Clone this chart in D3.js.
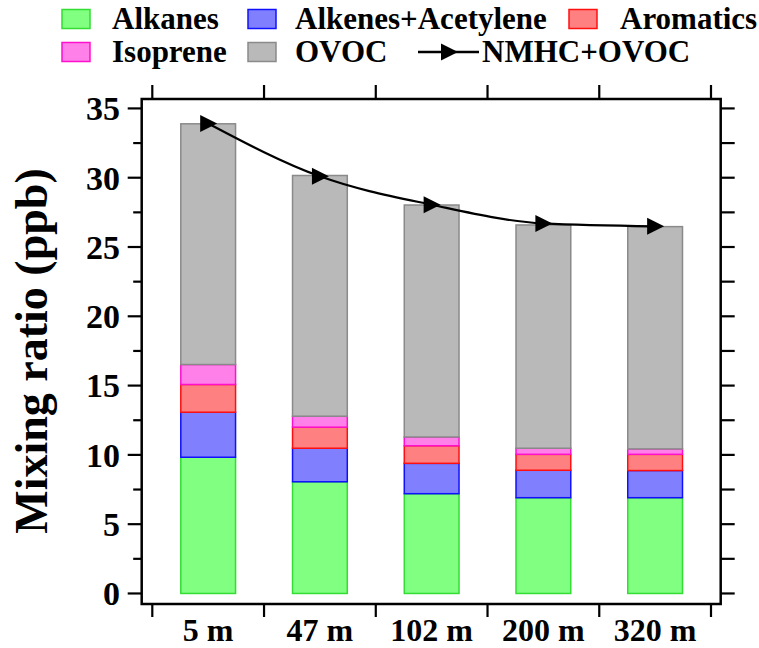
<!DOCTYPE html>
<html>
<head>
<meta charset="utf-8">
<script src="https://cdn.jsdelivr.net/npm/d3@7"></script>
<style>
  html, body { margin: 0; padding: 0; background: #fff; }
  svg { display: block; font-family: "Liberation Serif", "Times New Roman", serif; font-weight: bold; }
</style>
</head>
<body>
<svg id="chart" width="759" height="648"></svg>
<script>
// Sampling heights
const sites = ["5 m", "47 m", "102 m", "200 m", "320 m"];

// VOC group mixing ratios (ppb) at each height
const alkanes   = [9.83, 8.06, 7.20, 6.91, 6.91];
const alkenes   = [3.25, 2.42, 2.19, 1.98, 1.96];
const aromatics = [2.00, 1.52, 1.27, 1.15, 1.17];
const isoprene  = [1.44, 0.79, 0.63, 0.44, 0.39];
const ovoc      = [17.37, 17.37, 16.74, 16.11, 16.04];

// Total NMHC + OVOC (ppb)
const totals = [33.92, 30.10, 28.05, 26.70, 26.49];

// Y-axis ticks
const yMajorTicks = [0, 5, 10, 15, 20, 25, 30, 35];
const yMinorTicks = [2.5, 7.5, 12.5, 17.5, 22.5, 27.5, 32.5];

const seriesNames = ["Alkanes", "Alkenes+Acetylene", "Aromatics", "Isoprene", "OVOC"];
const seriesValues = [alkanes, alkenes, aromatics, isoprene, ovoc];
const fills   = ["#80ff80", "#8080ff", "#ff8080", "#ff80e8", "#b9b9b9"];
const strokes = ["#33dd33", "#1010ff", "#ff1010", "#ff10cc", "#8a8a8a"];

const svg = d3.select("#chart");

// Plot frame
const frame = { left: 141.7, right: 720.7, top: 99, bottom: 604 };

const x = d3.scaleBand().domain(sites).range([152.3, 711]).padding(0);
const y = d3.scaleLinear().domain([-0.76, 35.68]).range([frame.bottom, frame.top]);
const barW = x.bandwidth() * 0.49;

// Stacked data
const table = sites.map((s, i) => {
  const row = { site: s };
  seriesNames.forEach((n, k) => { row[n] = seriesValues[k][i]; });
  return row;
});
const stacked = d3.stack().keys(seriesNames)(table);

const g = svg.append("g");

stacked.forEach((layer, k) => {
  g.append("g")
    .selectAll("rect")
    .data(layer)
    .join("rect")
    .attr("x", d => x(d.data.site) + (x.bandwidth() - barW) / 2)
    .attr("y", d => y(d[1]))
    .attr("width", barW)
    .attr("height", d => y(d[0]) - y(d[1]))
    .attr("fill", fills[k])
    .attr("stroke", strokes[k])
    .attr("stroke-width", 1.5);
});

// Total line with triangle markers
const line = d3.line()
  .x((d, i) => x(sites[i]) + x.bandwidth() / 2)
  .y(d => y(d))
  .curve(d3.curveMonotoneX);

g.append("path")
  .datum(totals)
  .attr("d", line)
  .attr("fill", "none")
  .attr("stroke", "#000")
  .attr("stroke-width", 2.2);

const tri = "M-8,-8.5 L9,0 L-8,8.5 Z";
g.selectAll(".mk")
  .data(totals)
  .join("path")
  .attr("class", "mk")
  .attr("d", tri)
  .attr("transform", (d, i) => `translate(${x(sites[i]) + x.bandwidth() / 2},${y(d)})`)
  .attr("fill", "#000");

// Frame
svg.append("rect")
  .attr("x", frame.left).attr("y", frame.top)
  .attr("width", frame.right - frame.left)
  .attr("height", frame.bottom - frame.top)
  .attr("fill", "none")
  .attr("stroke", "#000")
  .attr("stroke-width", 2.5);

// Left axis ticks and labels
const axisG = svg.append("g").attr("stroke", "#000").attr("stroke-width", 2.2);
yMajorTicks.forEach(v => {
  axisG.append("line").attr("x1", frame.left - 14).attr("x2", frame.left).attr("y1", y(v)).attr("y2", y(v));
});
yMinorTicks.forEach(v => {
  axisG.append("line").attr("x1", frame.left - 8.5).attr("x2", frame.left).attr("y1", y(v)).attr("y2", y(v));
});
// Right axis ticks
yMajorTicks.concat(yMinorTicks).forEach(v => {
  axisG.append("line").attr("x1", frame.right).attr("x2", frame.right + 14).attr("y1", y(v)).attr("y2", y(v));
});
// Top and bottom ticks at band boundaries
const bounds = sites.map(s => x(s)).concat([x(sites[sites.length - 1]) + x.bandwidth()]);
bounds.forEach(b => {
  axisG.append("line").attr("x1", b).attr("x2", b).attr("y1", frame.top - 14).attr("y2", frame.top);
  axisG.append("line").attr("x1", b).attr("x2", b).attr("y1", frame.bottom).attr("y2", frame.bottom + 13);
});

svg.append("g")
  .selectAll("text")
  .data(yMajorTicks)
  .join("text")
  .attr("x", 120)
  .attr("y", d => y(d))
  .attr("dy", "0.35em")
  .attr("text-anchor", "end")
  .attr("font-size", 34)
  .text(d => d);

svg.append("g")
  .selectAll("text")
  .data(sites)
  .join("text")
  .attr("x", d => x(d) + x.bandwidth() / 2)
  .attr("y", 641)
  .attr("text-anchor", "middle")
  .attr("font-size", 32)
  .text(d => d);

// Y-axis title
svg.append("text")
  .attr("transform", "translate(47,351) rotate(-90)")
  .attr("text-anchor", "middle")
  .attr("font-size", 46)
  .text("Mixing ratio (ppb)");

// Legend
const legendItems = [
  { k: 0, sx: 62,  tx: 112, row: 0 },
  { k: 1, sx: 248, tx: 295, row: 0 },
  { k: 2, sx: 569, tx: 620, row: 0 },
  { k: 3, sx: 62,  tx: 112, row: 1 },
  { k: 4, sx: 248, tx: 295, row: 1 }
];
const rowY = [19, 52];
const lg = svg.append("g");
legendItems.forEach(it => {
  lg.append("rect")
    .attr("x", it.sx).attr("y", rowY[it.row] - 9.5)
    .attr("width", 28).attr("height", 19)
    .attr("fill", fills[it.k]).attr("stroke", strokes[it.k]).attr("stroke-width", 1.5);
  lg.append("text")
    .attr("x", it.tx).attr("y", rowY[it.row] + 10)
    .attr("font-size", 31)
    .text(seriesNames[it.k]);
});
lg.append("line")
  .attr("x1", 418).attr("x2", 479).attr("y1", rowY[1]).attr("y2", rowY[1])
  .attr("stroke", "#000").attr("stroke-width", 2.5);
lg.append("path").attr("d", tri).attr("transform", `translate(449,${rowY[1]})`).attr("fill", "#000");
lg.append("text")
  .attr("x", 482).attr("y", rowY[1] + 10)
  .attr("font-size", 31)
  .text("NMHC+OVOC");
</script>
</body>
</html>
